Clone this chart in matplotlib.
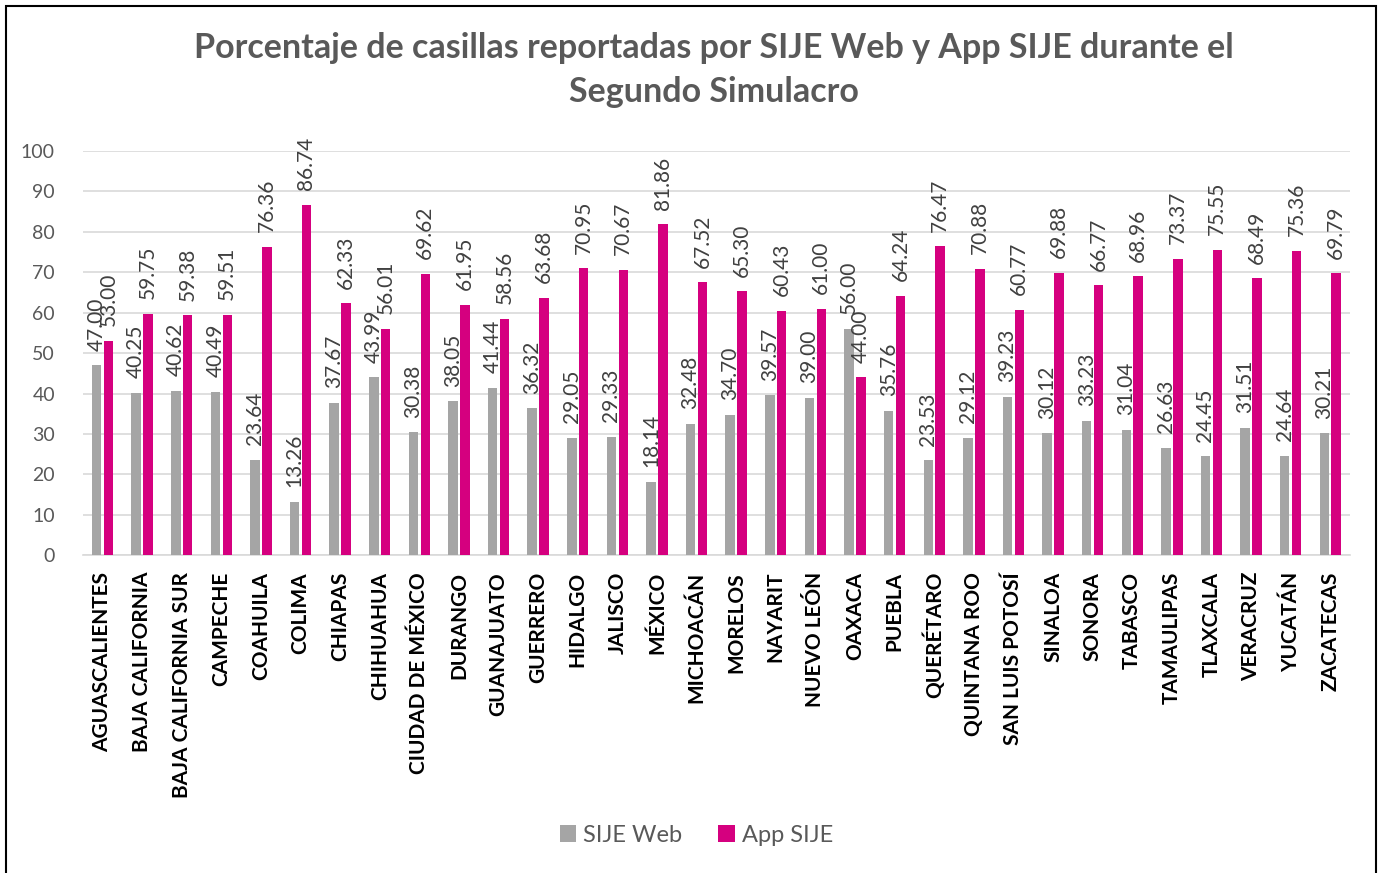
import matplotlib.pyplot as plt
import numpy as np

estados = ["AGUASCALIENTES", "BAJA CALIFORNIA", "BAJA CALIFORNIA SUR", "CAMPECHE",
           "COAHUILA", "COLIMA", "CHIAPAS", "CHIHUAHUA", "CIUDAD DE MÉXICO", "DURANGO",
           "GUANAJUATO", "GUERRERO", "HIDALGO", "JALISCO", "MÉXICO", "MICHOACÁN",
           "MORELOS", "NAYARIT", "NUEVO LEÓN", "OAXACA", "PUEBLA", "QUERÉTARO",
           "QUINTANA ROO", "SAN LUIS POTOSÍ", "SINALOA", "SONORA", "TABASCO",
           "TAMAULIPAS", "TLAXCALA", "VERACRUZ", "YUCATÁN", "ZACATECAS"]
sije_web = [47.00, 40.25, 40.62, 40.49, 23.64, 13.26, 37.67, 43.99, 30.38, 38.05,
            41.44, 36.32, 29.05, 29.33, 18.14, 32.48, 34.70, 39.57, 39.00, 56.00,
            35.76, 23.53, 29.12, 39.23, 30.12, 33.23, 31.04, 26.63, 24.45, 31.51,
            24.64, 30.21]
app_sije = [53.00, 59.75, 59.38, 59.51, 76.36, 86.74, 62.33, 56.01, 69.62, 61.95,
            58.56, 63.68, 70.95, 70.67, 81.86, 67.52, 65.30, 60.43, 61.00, 44.00,
            64.24, 76.47, 70.88, 60.77, 69.88, 66.77, 68.96, 73.37, 75.55, 68.49,
            75.36, 69.79]

plt.rcParams['font.family'] = ['Lato', 'DejaVu Sans']
gris = '#A5A5A5'
rosa = '#D5007F'
texto = '#595959'

fig = plt.figure(figsize=(13.79, 8.73), dpi=100)
ax = fig.add_axes([0.060, 0.364, 0.919, 0.463])

x = np.arange(len(estados))
w = 0.24
b1 = ax.bar(x - 0.15, sije_web, w, color=gris, label='SIJE Web', zorder=3)
b2 = ax.bar(x + 0.15, app_sije, w, color=rosa, label='App SIJE', zorder=3)

# etiquetas de datos, separadas de la barra
for bars in (b1, b2):
    for r in bars:
        h = r.get_height()
        ax.text(r.get_x() + r.get_width() / 2, h + 3.6, f'{h:.2f}', rotation=90,
                ha='center', va='bottom', fontsize=15, color='#404040',
                clip_on=False, zorder=4)

ax.set_xlim(-0.5, len(estados) - 0.5)
ax.set_ylim(0, 100)
ax.set_yticks(range(0, 101, 10))
ax.yaxis.grid(True, color='#D9D9D9', linewidth=1.2, zorder=0)
ax.set_axisbelow(True)
for s in ['top', 'right', 'left']:
    ax.spines[s].set_visible(False)
ax.spines['bottom'].set_color('#D9D9D9')
ax.spines['bottom'].set_linewidth(1.2)
ax.tick_params(length=0)
ax.tick_params(axis='y', labelsize=14, labelcolor=texto, pad=20)
ax.tick_params(axis='x', pad=12)
ax.set_xticks(x)
ax.set_xticklabels(estados, rotation=90, fontsize=15, fontweight='bold', color='black')

fig.text(0.518, 0.920, 'Porcentaje de casillas reportadas por SIJE Web y App SIJE durante el\nSegundo Simulacro',
         ha='center', va='center', fontsize=24.5, fontweight='bold', color=texto,
         linespacing=1.45)

fig.legend(loc='center', bbox_to_anchor=(0.505, 0.043), ncol=2, frameon=False,
           fontsize=17, labelcolor=texto, handlelength=0.7, handleheight=0.7,
           handletextpad=0.3, columnspacing=1.5)

fig.add_artist(plt.Rectangle((0.004, -0.01), 0.994, 1.003, transform=fig.transFigure,
                             fill=False, edgecolor='black', linewidth=1.5))

fig.savefig('out.png', dpi=100)
